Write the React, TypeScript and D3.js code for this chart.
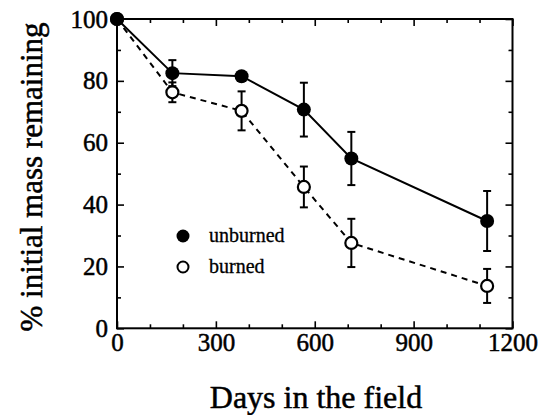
import React, { useEffect, useRef } from 'react';
import * as d3 from 'd3';

const days = [0, 168, 378, 567, 711, 1123];
const unburned = [100, 82.5, 81.5, 70.7, 54.9, 34.7];
const unburnedErr = [0, 4.2, 0, 8.7, 8.6, 9.7];
const burned = [100, 76.3, 70.3, 45.7, 27.6, 13.7];
const burnedErr = [0, 3.2, 6.3, 6.6, 7.8, 5.5];

const xMajor = [0, 300, 600, 900, 1200];
const xMinor = [100, 200, 400, 500, 700, 800, 1000, 1100];
const yMajor = [0, 20, 40, 60, 80, 100];
const yMinor = [10, 30, 50, 70, 90];

const FONT = '"Liberation Serif", "Times New Roman", Times, serif';

const App = () => {
  const svgRef = useRef<SVGSVGElement | null>(null);

  useEffect(() => {
    const svg = d3.select(svgRef.current);
    svg.selectAll('*').remove();

    const x = d3.scaleLinear().domain([0, 1200]).range([117, 512.5]);
    const y = d3.scaleLinear().domain([0, 100]).range([328.3, 19]);

    const styleAxis = (g: any) => {
      g.attr('font-family', FONT).attr('font-size', 25);
      g.select('.domain').remove();
      g.selectAll('line').attr('stroke', '#000').attr('stroke-width', 1.6);
      g.selectAll('text')
        .style('font-family', FONT)
        .style('font-size', '25px')
        .attr('fill', '#000')
        .attr('stroke', '#000')
        .attr('stroke-width', 0.5);
    };

    // ticks, all pointing inward
    svg.append('g').attr('transform', `translate(0,${y(0)})`)
      .call(d3.axisBottom(x).tickValues(xMajor).tickSize(-7).tickPadding(5).tickFormat(d3.format('d')))
      .call(styleAxis);
    svg.append('g').attr('transform', `translate(0,${y(0)})`)
      .call(d3.axisBottom(x).tickValues(xMinor).tickSize(-4).tickFormat(() => ''))
      .call(styleAxis);
    svg.append('g').attr('transform', `translate(0,${y(100)})`)
      .call(d3.axisTop(x).tickValues(xMajor).tickSize(-7).tickFormat(() => ''))
      .call(styleAxis);
    svg.append('g').attr('transform', `translate(0,${y(100)})`)
      .call(d3.axisTop(x).tickValues(xMinor).tickSize(-4).tickFormat(() => ''))
      .call(styleAxis);
    svg.append('g').attr('transform', `translate(${x(0)},0)`)
      .call(d3.axisLeft(y).tickValues(yMajor).tickSize(-7).tickPadding(9).tickFormat(d3.format('d')))
      .call(styleAxis);
    svg.append('g').attr('transform', `translate(${x(0)},0)`)
      .call(d3.axisLeft(y).tickValues(yMinor).tickSize(-4).tickFormat(() => ''))
      .call(styleAxis);
    svg.append('g').attr('transform', `translate(${x(1200)},0)`)
      .call(d3.axisRight(y).tickValues(yMajor).tickSize(-7).tickFormat(() => ''))
      .call(styleAxis);
    svg.append('g').attr('transform', `translate(${x(1200)},0)`)
      .call(d3.axisRight(y).tickValues(yMinor).tickSize(-4).tickFormat(() => ''))
      .call(styleAxis);

    // frame
    svg.append('rect')
      .attr('x', x(0)).attr('y', y(100))
      .attr('width', x(1200) - x(0)).attr('height', y(0) - y(100))
      .attr('fill', 'none').attr('stroke', '#000').attr('stroke-width', 2);

    const line = d3.line<number>().x((_, i) => x(days[i])).y((d) => y(d));

    const series = [
      { vals: burned, err: burnedErr, filled: false, dash: '6,5' },
      { vals: unburned, err: unburnedErr, filled: true, dash: null },
    ];

    series.forEach((s) => {
      svg.append('path')
        .datum(s.vals)
        .attr('d', line)
        .attr('fill', 'none')
        .attr('stroke', '#000')
        .attr('stroke-width', 2)
        .attr('stroke-dasharray', s.dash);

      const eb = svg.append('g').attr('stroke', '#000').attr('stroke-width', 2);
      s.vals.forEach((v, i) => {
        const e = s.err[i];
        if (!e) return;
        const cx = x(days[i]);
        eb.append('line').attr('x1', cx).attr('x2', cx).attr('y1', y(v - e)).attr('y2', y(v + e));
        eb.append('line').attr('x1', cx - 4).attr('x2', cx + 4).attr('y1', y(v - e)).attr('y2', y(v - e));
        eb.append('line').attr('x1', cx - 4).attr('x2', cx + 4).attr('y1', y(v + e)).attr('y2', y(v + e));
      });
    });

    series.forEach((s) => {
      svg.append('g').selectAll('circle')
        .data(s.vals)
        .enter()
        .append('circle')
        .attr('cx', (_, i) => x(days[i]))
        .attr('cy', (d) => y(d))
        .attr('r', s.filled ? 7 : 6)
        .attr('fill', s.filled ? '#000' : '#fff')
        .attr('stroke', '#000')
        .attr('stroke-width', s.filled ? 0 : 2.2);
    });

    // legend
    const legend = [
      { label: 'unburned', filled: true },
      { label: 'burned', filled: false },
    ];
    legend.forEach((d, i) => {
      const ly = 236 + i * 31;
      svg.append('circle')
        .attr('cx', 183).attr('cy', ly)
        .attr('r', d.filled ? 6.5 : 5.5)
        .attr('fill', d.filled ? '#000' : '#fff')
        .attr('stroke', '#000')
        .attr('stroke-width', d.filled ? 0 : 2);
      svg.append('text')
        .attr('x', 209).attr('y', ly + 6)
        .attr('stroke', '#000').attr('stroke-width', 0.3)
        .style('font-family', FONT).style('font-size', '20px')
        .text(d.label);
    });

    // axis titles
    svg.append('text')
      .attr('x', 316).attr('y', 408)
      .attr('text-anchor', 'middle')
      .attr('stroke', '#000').attr('stroke-width', 0.5)
      .style('font-family', FONT).style('font-size', '32px')
      .text('Days in the field');
    svg.append('text')
      .attr('transform', 'translate(42,177) rotate(-90)')
      .attr('text-anchor', 'middle')
      .attr('stroke', '#000').attr('stroke-width', 0.5)
      .style('font-family', FONT).style('font-size', '31px')
      .text('% initial mass remaining');
  }, []);

  return (
    <svg
      ref={svgRef}
      width={545}
      height={415}
      style={{ position: 'absolute', left: 0, top: 0, background: '#fff' }}
    />
  );
};

export default App;
